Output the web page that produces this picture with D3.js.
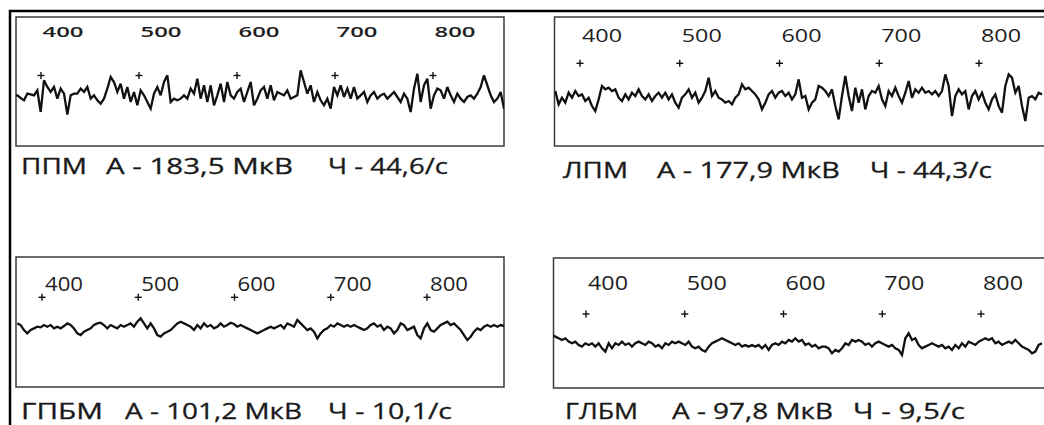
<!DOCTYPE html>
<meta charset="utf-8">
<style>
body { margin: 0; background: #fff; }
svg { display: block; font-family: 'Open Sans', sans-serif; }
.frame { fill: none; stroke: #000; stroke-width: 2.5px; }
.box { fill: none; stroke: #3a3a3a; stroke-width: 1.5px; }
.trace { fill: none; stroke: #111; stroke-width: 2.3px; stroke-linejoin: miter; stroke-miterlimit: 3; }
.plus { stroke: #111; stroke-width: 1.4px; }
.tick-label { fill: #1e1e1e; }
.caption { fill: #1a1a1a; stroke: #1a1a1a; stroke-width: 0.3px; font-size: 21.5px; }
</style>
<svg width="1044" height="425"></svg>
<script src="https://d3js.org/d3.v7.min.js"></script>
<script>
// tick labels (ms)
var ticks = [400, 500, 600, 700, 800];

// captions
var muscles = ["ППМ", "ЛПМ", "ГПБМ", "ГЛБМ"];
var amplitudes = ["183,5", "177,9", "101,2", "97,8"];
var frequencies = ["44,6", "44,3", "10,1", "9,5"];

// EMG traces, amplitude (arbitrary units, up = positive)
var ppm = [5, 5, -3, -10, 10, 8, 5, 20, -45, 50, 30, 15, 30, -5, 25, 10, -53, 5, 10, 10,
  25, 15, 30, -5, 5, -10, -20, -5, 25, 60, 45, 15, 40, -5, 30, -15, 15, -25, 20, 5,
  -15, -35, 10, 30, 5, 45, 65, -15, -5, -10, -5, 5, -5, 25, 10, 55, -5, 35, -15, 35,
  -25, 5, 40, -15, 45, 5, -5, 15, 25, -15, 15, 45, -25, -5, 20, 30, -5, 35, -10, 15,
  10, 5, 20, -5, 0, 5, 80, 45, 10, 35, -15, 15, -10, -25, -5, -35, 30, 5, 35, 0,
  25, -5, 30, -5, 5, 15, -15, 5, 15, -5, 5, 10, -5, 5, 15, 0, -15, 10, -5, -45,
  25, 70, -15, 35, 55, -35, 5, 25, 20, -5, 30, 5, -15, 10, -5, -15, 0, 5, -5, 10,
  30, 65, 35, 5, -15, -5, 15, -35];

var lpm = [20, -20, 0, -15, 15, 0, 20, 5, 10, -10, 0, -25, -40, -5, 35, 25, 30, 20, 25, 0,
  -10, 10, -5, 15, 5, 25, 5, -5, 10, -10, 5, 15, 0, 15, -5, 10, -15, -30, 0, 10,
  25, 0, 15, -15, 0, 20, 60, 5, 20, 0, -5, -15, -10, -20, 0, 10, 40, 25, 30, 20,
  10, -5, -35, -15, 10, 20, 0, 15, 20, 5, 15, -5, 10, 55, 0, 5, -35, -15, -5, 35,
  30, 20, 5, 25, -25, -65, 5, 65, 5, -40, 30, -15, 25, -35, 5, 20, 15, 35, -5, -25,
  20, 5, 30, 5, -15, 15, 50, 0, 25, 15, 30, 15, 20, 10, 20, 5, 20, 70, 35, -55,
  5, 25, 10, 20, -35, 5, 20, -5, 15, -15, -35, -5, 10, -25, -45, 35, 70, 60, 15, 35,
  -25, -70, 0, 5, -5, 15, 10];

var gpbm = [10, 5, -10, -20, -10, -5, 0, -2, 5, 0, 5, -5, 0, -5, 2, 10, 5, -5, -20, -25,
  -15, -10, -5, 5, 10, 12, 5, -5, 5, 0, -5, 5, 0, 5, 10, 0, 15, 25, 10, -5,
  10, -5, -25, -30, -20, -15, -10, 0, 10, 15, 10, 5, 0, -10, 5, -5, 10, 0, 5, -5,
  0, 10, 0, 5, 12, 8, 0, 5, 0, -5, -10, -15, -20, -15, -10, -5, 0, -5, 0, 5,
  -5, 10, 5, 0, 20, 10, 0, -10, -5, -15, -35, -20, -10, -5, 5, 0, 10, 5, 0, 5,
  0, 5, 0, -5, -10, -5, 5, 10, 0, 5, -10, 0, -5, -20, -10, 10, 5, -10, -5, 0,
  -25, -35, -5, 10, -10, -15, -5, 5, 10, 15, 5, 10, 0, -10, -25, -40, -30, -15, -5, -10,
  0, 5, 0, 5, 0, 5, 2];

var glbm = [25, 20, 15, 10, 15, 5, 0, 5, -5, -10, 0, -5, 0, -10, 0, -15, -25, 0, -15, 0,
  -5, 5, -5, 0, -10, 0, 5, 0, -5, 5, 0, -10, -5, -15, 0, -5, 5, 0, 5, 0,
  -5, 5, -10, -15, -10, -20, -25, -10, 0, 5, 10, 15, 10, 5, 0, -5, 0, -10, -5, -10,
  -5, -10, -5, -15, -5, -20, -5, 0, -5, 5, 0, 10, 5, 15, 5, 10, -5, 0, -10, -5,
  -15, -10, -10, -15, -30, -20, -25, -15, 0, -5, 10, 5, 10, 5, -5, 0, -10, 0, 5, 0,
  -5, -10, -5, -15, -20, -35, 15, 30, 10, 15, -5, -15, -10, -5, 0, -5, -10, -5, -15, -10,
  -20, -5, -15, 0, -10, 5, 0, -5, 5, 10, 15, 10, 15, 0, 5, -5, 0, 5, 0, 10,
  0, -10, -15, -20, -30, -25, -5, 0];

var traces = [ppm, lpm, gpbm, glbm];

// panel layout (pixels)
var panels = [
  {box: [16, 17, 488, 129], base: 97, span: [14, 504], t: [41, 433], plusY: 75.5,
   labY: 36.7, labDx: 22, anchor: "middle", labSize: 14.5, labLen: 41, labWeight: 600,
   capY: 174, capX: [21, 106, 328], capLen: [66, 187, 120]},
  {box: [554.5, 17, 492, 129], base: 97.7, span: [555.3, 1042], t: [580, 979], plusY: 63.3,
   labY: 41.7, labDx: 22, anchor: "middle", labSize: 19, labLen: 40, labWeight: 400,
   capY: 178, capX: [563, 657, 870], capLen: [65, 183, 122]},
  {box: [16, 257, 488, 130], base: 326.7, span: [17.3, 504], t: [42, 427], plusY: 297.3,
   labY: 291, labDx: 3, anchor: "start", labSize: 19.5, labLen: 38, labWeight: 400,
   capY: 419.3, capX: [21, 125, 328], capLen: [82, 177, 124]},
  {box: [553.5, 258, 492, 130], base: 343.3, span: [552, 1042], t: [586, 981], plusY: 314,
   labY: 290, labDx: 22, anchor: "middle", labSize: 19.5, labLen: 40, labWeight: 400,
   capY: 419, capX: [565, 672, 853], capLen: [73, 161, 112]}
];

var svg = d3.select("svg");

// outer frame: top and left edges only are visible
svg.append("path")
    .attr("class", "frame")
    .attr("d", "M10,440 L10,11 L1050,11");

panels.forEach(function(p, k) {
  var g = svg.append("g");
  var data = traces[k];

  var clipId = "clip" + k;
  g.append("clipPath").attr("id", clipId)
    .append("rect")
      .attr("x", p.box[0]).attr("y", p.box[1])
      .attr("width", p.box[2]).attr("height", p.box[3]);

  g.append("rect")
      .attr("class", "box")
      .attr("x", p.box[0]).attr("y", p.box[1])
      .attr("width", p.box[2]).attr("height", p.box[3]);

  // time scale for the markers, sample scale for the trace
  var t = d3.scaleLinear().domain([400, 800]).range(p.t);
  var x = d3.scaleLinear().domain([0, data.length - 1]).range(p.span);
  var y = d3.scaleLinear().domain([-150, 150]).range([p.base + 50, p.base - 50]);

  var line = d3.line()
      .x(function(d, i) { return x(i); })
      .y(function(d) { return y(d); });

  g.append("path")
      .datum(data)
      .attr("class", "trace")
      .attr("clip-path", "url(#" + clipId + ")")
      .attr("d", line);

  // "+" markers
  var plus = g.selectAll(".mark")
      .data(ticks)
    .enter().append("g")
      .attr("class", "mark")
      .attr("transform", function(d) { return "translate(" + t(d) + "," + p.plusY + ")"; });
  plus.append("line").attr("class", "plus").attr("x1", -3.5).attr("x2", 3.5);
  plus.append("line").attr("class", "plus").attr("y1", -3.5).attr("y2", 3.5);

  g.selectAll(".tick-label")
      .data(ticks)
    .enter().append("text")
      .attr("class", "tick-label")
      .attr("x", function(d) { return t(d) + p.labDx; })
      .attr("y", p.labY)
      .attr("text-anchor", p.anchor)
      .attr("font-size", p.labSize)
      .attr("font-weight", p.labWeight)
      .attr("textLength", p.labLen)
      .attr("lengthAdjust", "spacingAndGlyphs")
      .text(function(d) { return d; });

  var parts = [muscles[k], "А - " + amplitudes[k] + " МкВ", "Ч - " + frequencies[k] + "/с"];
  g.selectAll(".caption")
      .data(parts)
    .enter().append("text")
      .attr("class", "caption")
      .attr("x", function(d, i) { return p.capX[i]; })
      .attr("y", p.capY)
      .attr("textLength", function(d, i) { return p.capLen[i]; })
      .attr("lengthAdjust", "spacingAndGlyphs")
      .text(function(d) { return d; });
});
</script>
